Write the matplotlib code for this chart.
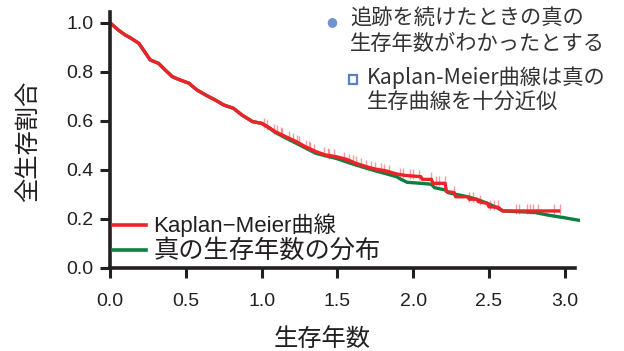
import numpy as np
import matplotlib
matplotlib.use('Agg')
import matplotlib.pyplot as plt
from matplotlib.lines import Line2D
from matplotlib.patches import Rectangle

# Kaplan-Meier estimate (red)
km_t = [0.0, 0.055, 0.10, 0.13, 0.19, 0.23, 0.265, 0.32, 0.364, 0.41, 0.45,
        0.52, 0.574, 0.63, 0.695, 0.75, 0.815, 0.87, 0.94, 1.0, 1.04, 1.09,
        1.16, 1.23, 1.29, 1.36, 1.42, 1.49, 1.56, 1.62, 1.69, 1.75, 1.82,
        1.89, 1.95, 2.05, 2.06, 2.12, 2.13, 2.21, 2.22, 2.27, 2.28, 2.36,
        2.37, 2.42, 2.43, 2.49, 2.50, 2.56, 2.59, 2.97]
km_s = [1.0, 0.97, 0.95, 0.94, 0.916, 0.88, 0.848, 0.834, 0.807, 0.78, 0.769,
        0.753, 0.725, 0.705, 0.684, 0.664, 0.65, 0.623, 0.596, 0.589, 0.575,
        0.555, 0.534, 0.514, 0.493, 0.473, 0.46, 0.453, 0.442, 0.426, 0.412,
        0.402, 0.395, 0.382, 0.376, 0.371, 0.36, 0.36, 0.344, 0.344, 0.31,
        0.306, 0.289, 0.289, 0.279, 0.279, 0.269, 0.262, 0.248, 0.246, 0.231,
        0.231]

# true survival distribution (green)
true_t = [0.0, 0.055, 0.10, 0.13, 0.19, 0.23, 0.265, 0.32, 0.364, 0.41, 0.45,
          0.52, 0.574, 0.63, 0.695, 0.75, 0.815, 0.87, 0.94, 1.0, 1.04, 1.09,
          1.16, 1.23, 1.36, 1.49, 1.62, 1.75, 1.89, 1.92, 1.96, 2.05, 2.12,
          2.14, 2.21, 2.23, 2.28, 2.36, 2.43, 2.49, 2.56, 2.59, 2.80, 2.89,
          3.0, 3.1]
true_s = [1.0, 0.97, 0.95, 0.94, 0.916, 0.88, 0.848, 0.834, 0.807, 0.78, 0.769,
          0.753, 0.725, 0.705, 0.684, 0.664, 0.65, 0.623, 0.596, 0.589, 0.574,
          0.552, 0.529, 0.507, 0.466, 0.446, 0.419, 0.395, 0.371, 0.36, 0.348,
          0.344, 0.34, 0.326, 0.317, 0.306, 0.299, 0.289, 0.276, 0.262, 0.242,
          0.231, 0.225, 0.214, 0.203, 0.192]

# censoring times
cens_t = [1.015, 1.037, 1.08, 1.10, 1.126, 1.137, 1.18, 1.21, 1.236, 1.247,
          1.29, 1.31, 1.32, 1.346, 1.41, 1.435, 1.446, 1.48, 1.545, 1.578, 1.6,
          1.62, 1.655, 1.69, 1.72, 1.75, 1.788, 1.81, 1.84, 1.91, 1.93, 1.976,
          1.998, 2.04, 2.12, 2.15, 2.17, 2.21, 2.27, 2.37, 2.395, 2.44, 2.505,
          2.53, 2.56, 2.68, 2.70, 2.75, 2.77, 2.79, 2.825, 2.93, 2.97]

xticks = [0.0, 0.5, 1.0, 1.5, 2.0, 2.5, 3.0]
yticks = [0.0, 0.2, 0.4, 0.6, 0.8, 1.0]

red = '#ee2229'
green = '#0b8040'
dark = '#231f20'
cjk = ['Noto Sans CJK JP', 'DejaVu Sans']
latin = ['Liberation Sans', 'Noto Sans CJK JP']

fig = plt.figure(figsize=(6.24, 3.51), dpi=100)
ax = fig.add_axes([110/624, 1 - 267.5/351, 470/624, 255.8/351])

ax.plot(true_t, true_s, color=green, lw=2.4, solid_capstyle='butt')
ax.plot(km_t, km_s, color=red, lw=2.4, solid_capstyle='butt')
cens_s = np.interp(cens_t, km_t, km_s)
ax.plot(cens_t, cens_s + 0.008, ls='none', marker='|', ms=7, mew=1.0,
        color=red, alpha=0.45)

ax.set_xlim(0, 3.1)
ax.set_ylim(0, 1.045)
ax.set_xticks(xticks)
ax.set_yticks(yticks)
ax.set_xticklabels([f'{v:.1f}' for v in xticks], family=latin, fontsize=14)
ax.set_yticklabels([f'{v:.1f}' for v in yticks], family=latin, fontsize=14)
ax.tick_params(width=2.2, length=7, colors=dark, pad=5)
ax.tick_params(axis='x', pad=11)
for s in ['top', 'right']:
    ax.spines[s].set_visible(False)
for s in ['left', 'bottom']:
    ax.spines[s].set_linewidth(2.6)
    ax.spines[s].set_color(dark)
ax.spines['bottom'].set_bounds(0, 3.07)

ax.set_xlabel('生存年数', family=cjk, fontsize=17.5, color=dark, va='center')
ax.xaxis.set_label_coords((322 - 110) / 470, (267.5 - 339) / 255.8)
ax.set_ylabel('全生存割合', family=cjk, fontsize=17.5, color=dark, va='center')
ax.yaxis.set_label_coords((28 - 110) / 470, (267.5 - 141) / 255.8)

# legend
handles = [Line2D([], [], color=red, lw=2.6), Line2D([], [], color=green, lw=2.6)]
leg = ax.legend(handles, ['Kaplan\u2212Meier曲線', '真の生存年数の分布'],
                loc='lower left', bbox_to_anchor=(-0.0126, -0.019), frameon=False,
                fontsize=16, handlelength=1.49, handletextpad=0.32,
                labelspacing=0.0, borderaxespad=0)
texts = leg.get_texts()
texts[0].set_fontfamily(latin)
texts[0].set_fontsize(16)
texts[1].set_fontfamily(cjk)
texts[1].set_fontsize(18.2)
for t in texts:
    t.set_color(dark)

# annotation block
fig.text(332/624, 1 - 22/351, '\u25cf', color='#7292d2', fontsize=9,
         ha='center', va='center', family=['DejaVu Sans'])
fig.text(350/624, 1 - 8/351, '追跡を続けたときの真の\n生存年数がわかったとする',
         family=cjk, fontsize=15.3, color='#333333', va='top', ha='left',
         linespacing=1.2)
fig.patches.append(Rectangle((348.5/624, 1 - 84/351), 9/624, 9/351,
                             transform=fig.transFigure, fill=False,
                             edgecolor='#5b7fc4', lw=1.6))
fig.text(367/624, 1 - 66/351, 'Kaplan-Meier曲線は真の\n生存曲線を十分近似',
         family=cjk, fontsize=15.3, color='#333333', va='top', ha='left',
         linespacing=1.2)

fig.savefig('out.png', dpi=100)
